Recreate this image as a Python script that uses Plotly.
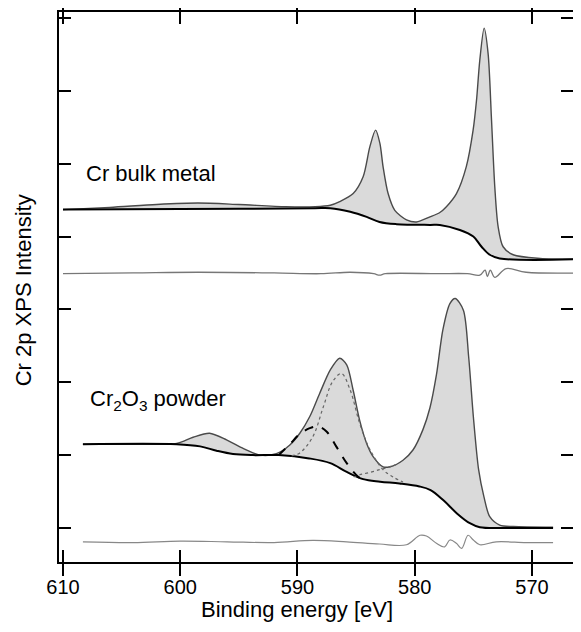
import plotly.graph_objects as go

# ---------------- data ----------------
# Cr bulk metal: measured spectrum
metal_energy = [610.0, 606.0, 602.0, 598.5, 595.0, 591.0, 588.5, 587.2, 586.4, 585.25, 584.4,
                583.83, 583.34, 582.97, 582.7, 582.27, 581.7, 580.7, 579.85, 578.7, 577.86,
                577.3, 576.44, 575.6, 575.02, 574.73, 574.45, 574.08, 573.74, 573.45, 573.17,
                572.89, 572.46, 571.6, 569.3, 565.8]
metal_intensity = [4.37, 4.40, 4.44, 4.46, 4.44, 4.41, 4.41, 4.43, 4.48, 4.59, 4.82,
                   5.23, 5.46, 5.28, 4.96, 4.59, 4.36, 4.23, 4.20, 4.27, 4.33,
                   4.41, 4.59, 4.96, 5.46, 5.87, 6.42, 6.86, 6.51, 5.60, 4.68,
                   4.14, 3.86, 3.75, 3.70, 3.69]
# Cr bulk metal: Shirley background
metal_bg_energy = [610.0, 595.0, 588.5, 587.2, 585.5, 584.1, 583.0, 581.55, 578.7, 577.86,
                   576.15, 575.0, 574.3, 573.6, 572.75, 565.8]
metal_bg = [4.37, 4.38, 4.39, 4.39, 4.34, 4.27, 4.20, 4.17, 4.16, 4.16,
            4.09, 4.00, 3.86, 3.75, 3.70, 3.69]
# Cr bulk metal: residual
metal_res_energy = [610.0, 604.0, 598.5, 592.0, 588.0, 585.5, 583.5, 583.0, 582.5, 578.0, 575.5,
                    574.45, 574.0, 573.8, 573.55, 573.17, 572.2, 570.5, 565.8]
metal_res = [3.49, 3.50, 3.51, 3.50, 3.49, 3.51, 3.49, 3.47, 3.49, 3.49, 3.49,
             3.47, 3.54, 3.45, 3.54, 3.44, 3.56, 3.51, 3.50]

# Cr2O3 powder: measured spectrum
oxide_energy = [608.3, 604.0, 600.3, 598.9, 597.5, 596.05, 594.6, 593.2, 591.8, 590.65, 589.8,
                588.95, 588.1, 587.2, 586.4, 585.8, 585.25, 584.7, 584.1, 583.55, 582.7,
                582.1, 581.0, 580.15, 579.3, 578.7, 578.15, 577.6, 577.0, 576.55, 575.85,
                575.4, 575.0, 574.55, 574.1, 573.6, 572.75, 571.6, 568.2]
oxide_intensity = [1.15, 1.15, 1.16, 1.245, 1.30, 1.21, 1.09, 1.00, 1.02, 1.14, 1.30,
                   1.53, 1.85, 2.17, 2.33, 2.24, 1.89, 1.48, 1.16, 0.98, 0.84,
                   0.84, 0.93, 1.07, 1.35, 1.65, 2.10, 2.72, 3.08, 3.15, 2.99,
                   2.35, 1.53, 0.80, 0.43, 0.155, 0.04, 0.02, 0.01]
# Cr2O3 powder: Shirley background
oxide_bg_energy = [608.3, 600.3, 598.3, 596.9, 595.5, 593.8, 591.6, 589.0, 587.2, 585.8, 584.4,
                   582.95, 581.3, 579.6, 578.65, 577.55, 576.4, 575.3, 574.45, 572.0, 568.2]
oxide_bg = [1.15, 1.15, 1.12, 1.06, 1.015, 1.0, 1.0, 0.955, 0.89, 0.77, 0.67,
            0.635, 0.61, 0.57, 0.52, 0.38, 0.20, 0.065, 0.01, 0.0, 0.0]
# Cr2O3 powder: fit components
comp_dashed_energy = [591.6, 590.65, 589.8, 588.95, 588.2, 587.5, 586.7, 585.8, 584.8, 584.4]
comp_dashed = [1.0, 1.15, 1.29, 1.37, 1.39, 1.32, 1.12, 0.89, 0.70, 0.67]
comp_dotted1_energy = [590.5, 589.8, 588.7, 587.8, 587.0, 586.25, 585.5, 584.7, 583.8, 582.7, 581.85, 581.0]
comp_dotted1 = [0.99, 1.03, 1.25, 1.66, 2.01, 2.12, 1.89, 1.44, 1.07, 0.80, 0.70, 0.63]
comp_dotted2_energy = [585.2, 584.7, 583.9, 583.0, 582.3, 581.6]
comp_dotted2 = [0.70, 0.73, 0.76, 0.80, 0.83, 0.87]
# Cr2O3 powder: residual
oxide_res_energy = [608.3, 604.0, 600.0, 596.0, 592.0, 588.7, 585.8, 583.0, 580.7, 579.55, 579.0,
                    578.15, 577.45, 577.0, 576.45, 576.0, 575.45, 575.0, 574.45, 573.05, 570.5, 568.2]
oxide_res = [-0.19, -0.20, -0.18, -0.19, -0.20, -0.17, -0.19, -0.22, -0.23, -0.10, -0.11,
             -0.21, -0.26, -0.165, -0.21, -0.28, -0.10, -0.165, -0.23, -0.19, -0.20, -0.20]

x_ticks = [610, 600, 590, 580, 570]
y_ticks = [0, 1, 2, 3, 4, 5, 6, 7]
labels = ["Cr bulk metal", "Cr<sub>2</sub>O<sub>3</sub> powder"]

# ---------------- styles ----------------
FONT = "Liberation Sans, Arial, Helvetica, sans-serif"
FILL = "#dadada"
DATA_COL = "#4a4a4a"
RES_COL = "#777777"
Y_RANGE = [-0.467, 7.082]
X_RANGE = [610.34, 566.5]

fig = go.Figure()


def add_spectrum(ex, iy, bx, by):
    fig.add_trace(go.Scatter(x=bx, y=by, mode="lines", line=dict(width=0, color="black", shape="spline"),
                             showlegend=False, hoverinfo="skip"))
    fig.add_trace(go.Scatter(x=ex, y=iy, mode="lines", fill="tonexty", fillcolor=FILL,
                             line=dict(width=1.4, color=DATA_COL, shape="spline", smoothing=0.8),
                             showlegend=False))
    fig.add_trace(go.Scatter(x=bx, y=by, mode="lines", line=dict(width=2, color="black", shape="spline"),
                             showlegend=False))


add_spectrum(metal_energy, metal_intensity, metal_bg_energy, metal_bg)
add_spectrum(oxide_energy, oxide_intensity, oxide_bg_energy, oxide_bg)

fig.add_trace(go.Scatter(x=comp_dotted1_energy, y=comp_dotted1, mode="lines",
                         line=dict(width=1.2, color="#666666", dash="dot", shape="spline"), showlegend=False))
fig.add_trace(go.Scatter(x=comp_dotted2_energy, y=comp_dotted2, mode="lines",
                         line=dict(width=1.2, color="#666666", dash="dot", shape="spline"), showlegend=False))
fig.add_trace(go.Scatter(x=comp_dashed_energy, y=comp_dashed, mode="lines",
                         line=dict(width=2, color="black", dash="dash", shape="spline"), showlegend=False))

# residuals on the right-hand (identical-range) axis so that its ticks are drawn
fig.add_trace(go.Scatter(x=metal_res_energy, y=metal_res, mode="lines", yaxis="y2",
                         line=dict(width=1.3, color=RES_COL, shape="spline"), showlegend=False))
fig.add_trace(go.Scatter(x=oxide_res_energy, y=oxide_res, mode="lines", yaxis="y2",
                         line=dict(width=1.2, color="#888888", shape="spline"), showlegend=False))

# sample labels
fig.add_annotation(x=608.2, y=4.86, text=labels[0], showarrow=False, xanchor="left", yanchor="middle",
                   font=dict(family=FONT, size=22, color="black"))
fig.add_annotation(x=607.9, y=1.76, text=labels[1], showarrow=False, xanchor="left", yanchor="middle",
                   font=dict(family=FONT, size=22, color="black"))

# axis titles as annotations
fig.add_annotation(xref="paper", yref="paper", x=-0.07, y=0.494, text="Cr 2p XPS Intensity",
                   textangle=-90, showarrow=False, xanchor="center", yanchor="middle",
                   font=dict(family=FONT, size=22, color="black"))
fig.add_annotation(xref="paper", yref="paper", x=0.464, y=-0.086, text="Binding energy [eV]",
                   showarrow=False, xanchor="center", yanchor="middle",
                   font=dict(family=FONT, size=22, color="black"))

# the page body has an 8 px margin; keep the whole page inside the window (no scrollbars)
fig.update_layout(
    width=565, height=616,
    margin=dict(l=51, r=0, t=4, b=62, autoexpand=False),
    paper_bgcolor="white", plot_bgcolor="white",
    font=dict(family=FONT, color="black"),
    xaxis=dict(range=X_RANGE, tickvals=x_ticks, ticktext=[str(t) for t in x_ticks],
               ticks="inside", ticklen=12, tickwidth=1.5, tickcolor="black",
               showline=True, linewidth=1.6, linecolor="black", mirror="allticks",
               showgrid=False, zeroline=False, tickfont=dict(family=FONT, size=20, color="black"),
               ticklabelstandoff=6),
    yaxis=dict(range=Y_RANGE, tickvals=y_ticks, showticklabels=False,
               ticks="inside", ticklen=12, tickwidth=1.5, tickcolor="black",
               showline=True, linewidth=1.6, linecolor="black", mirror=False,
               showgrid=False, zeroline=False),
    yaxis2=dict(range=Y_RANGE, tickvals=y_ticks, showticklabels=False, overlaying="y",
                side="right", anchor="x", ticks="inside", ticklen=12, tickwidth=1.5, tickcolor="black",
                showline=False, showgrid=False, zeroline=False),
)

fig.write_html("out.html")
